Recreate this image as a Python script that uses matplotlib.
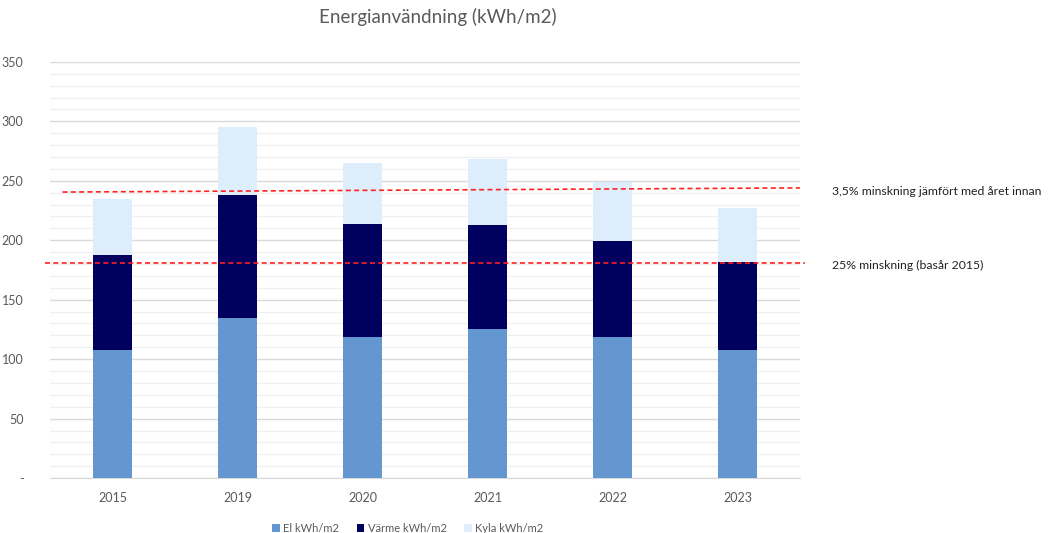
import numpy as np
import matplotlib.pyplot as plt
from matplotlib.ticker import MultipleLocator, FuncFormatter

years = ['2015', '2019', '2020', '2021', '2022', '2023']
el = [108, 135, 119, 125, 119, 108]
varme = [80, 103, 95, 88, 80, 74]
kyla = [47, 57, 51, 55, 50, 45]

series_names = ['El kWh/m2', 'Värme kWh/m2', 'Kyla kWh/m2']
colors = ['#6497D0', '#00005E', '#DDEDFC']

# reference lines (start value, end value)
line_prev_year = [240.5, 244.0]
line_base_2015 = [181.0, 181.0]
line_labels = ['3,5% minskning jämfört med året innan', '25% minskning (basår 2015)']

plt.rcParams['font.family'] = ['Lato', 'DejaVu Sans']
grey = '#595959'

fig = plt.figure(figsize=(10.48, 5.33), dpi=100)
ax = fig.add_axes([0.0477, 0.103, 0.7156, 0.781])

x = np.arange(len(years))
bottom = np.zeros(len(years))
for vals, name, c in zip([el, varme, kyla], series_names, colors):
    ax.bar(x, vals, width=0.315, bottom=bottom, color=c, label=name, zorder=3)
    bottom += np.array(vals)

ax.set_xlim(-0.5, len(years) - 0.5)
ax.set_ylim(0, 350)
ax.yaxis.set_major_locator(MultipleLocator(50))
ax.yaxis.set_minor_locator(MultipleLocator(10))
ax.yaxis.set_major_formatter(FuncFormatter(lambda v, p: '-' if v == 0 else f'{v:.0f}'))
ax.grid(axis='y', which='major', color='#d9d9d9', lw=1, zorder=0)
ax.grid(axis='y', which='minor', color='#f0f0f0', lw=1, zorder=0)
ax.set_xticks(x)
ax.set_xticklabels(years)
ax.tick_params(axis='both', which='both', length=0, labelsize=9, colors=grey)
ax.tick_params(axis='y', pad=19)
ax.tick_params(axis='x', pad=10)
for s in ['top', 'right', 'left']:
    ax.spines[s].set_visible(False)
ax.spines['bottom'].set_color('#d9d9d9')

# dashed target lines
ax.plot([-0.4, 5.5], line_prev_year, color='#ff2020', ls=(0, (3, 2)), lw=1.2,
        clip_on=False, zorder=4)
ax.plot([-0.54, 5.54], line_base_2015, color='#ff2020', ls=(0, (3, 2)), lw=1.2,
        clip_on=False, zorder=4)
ax.text(5.76, line_prev_year[1] - 3, line_labels[0], fontsize=8.8, color='#222222',
        va='center', clip_on=False)
ax.text(5.76, line_base_2015[1] - 2, line_labels[1], fontsize=8.8, color='#222222',
        va='center', clip_on=False)

fig.suptitle('Energianvändning (kWh/m2)', x=0.418, y=0.985, fontsize=13.5, color=grey)

fig.legend(loc='lower center', bbox_to_anchor=(0.389, -0.02), ncol=3, frameon=False,
           fontsize=8, handlelength=0.7, handleheight=0.7, handletextpad=0.3,
           columnspacing=1.6, labelcolor=grey)

fig.savefig('out.png', dpi=100)
